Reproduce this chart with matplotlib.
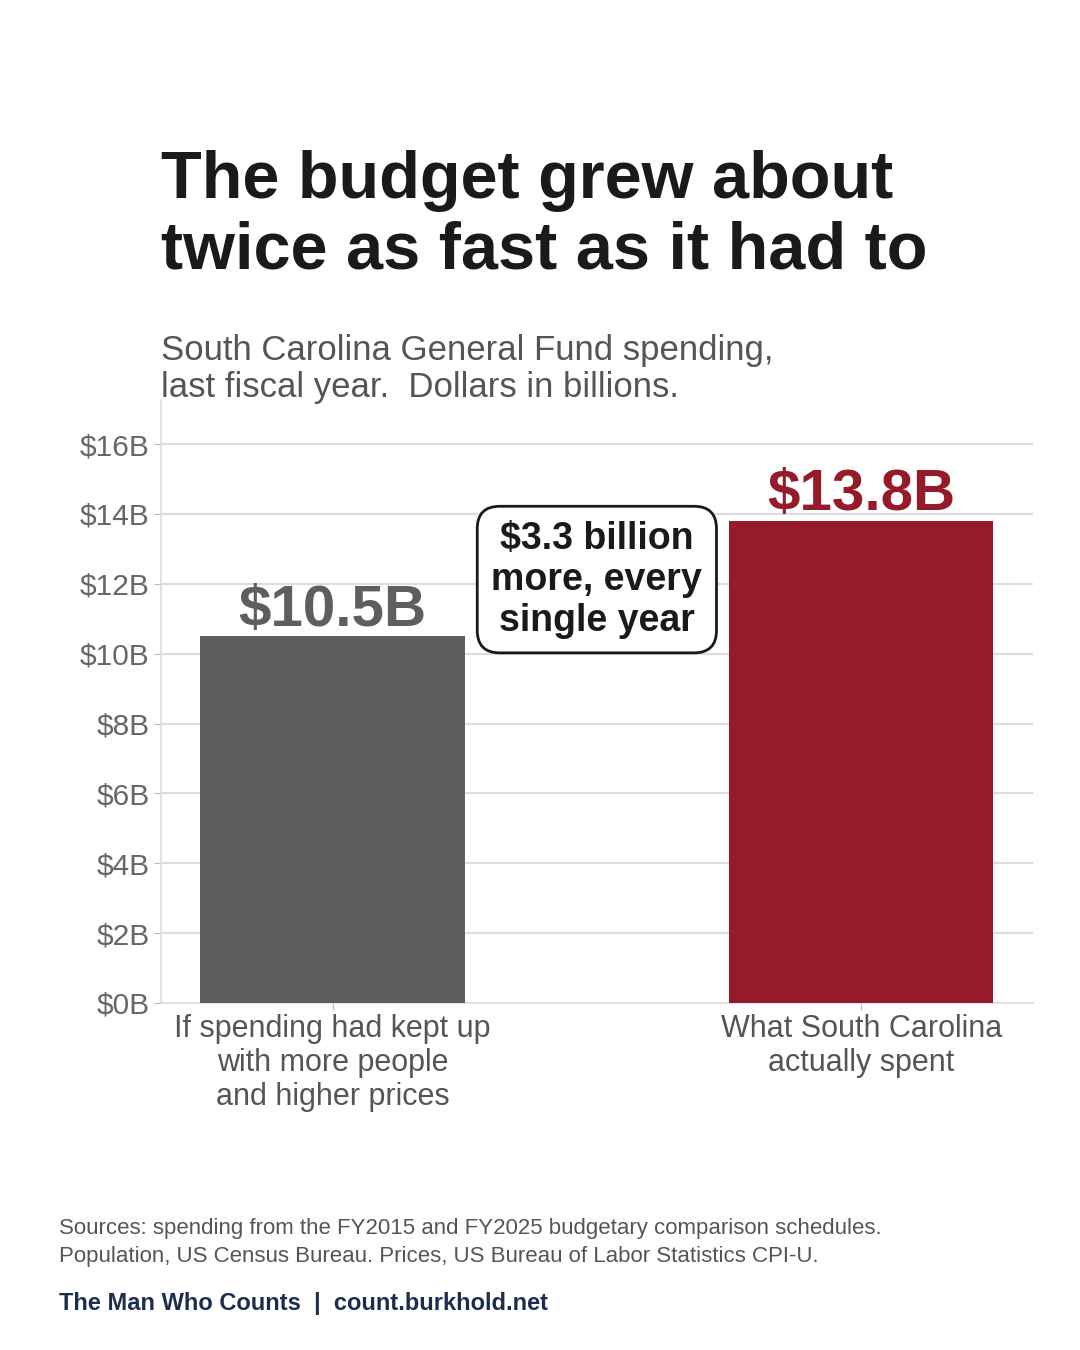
import matplotlib.pyplot as plt
from matplotlib.ticker import FuncFormatter

plt.rcParams['font.family'] = ['Liberation Sans', 'DejaVu Sans']

# Data
categories = ["If spending had kept up\nwith more people\nand higher prices",
              "What South Carolina\nactually spent"]
values = [10.5, 13.8]
value_labels = ["$10.5B", "$13.8B"]
bar_colors = ["#5e5e5e", "#951b2b"]
note_text = "$3.3 billion\nmore, every\nsingle year"

fig = plt.figure(figsize=(10.8, 13.5), dpi=100)
W, H = 1080, 1350
ax = fig.add_axes([161 / W, 1 - 1003 / H, (1033 - 161) / W, (1003 - 400) / H])

x = list(range(len(values)))
ax.bar(x, values, width=0.5, color=bar_colors, zorder=3)
ax.set_xlim(-0.3245, 1.325)
ax.set_ylim(0, 17.26)

ax.set_yticks(range(0, 17, 2))
ax.yaxis.set_major_formatter(FuncFormatter(lambda v, p: f"${int(v)}B"))
ax.grid(axis='y', color='#dddddd', linewidth=1.5, zorder=0)
ax.set_xticks(x)
ax.set_xticklabels(categories, fontsize=22, color='#555555', linespacing=1.17)
ax.tick_params(axis='y', labelsize=21.5, labelcolor='#666666', color='#bbbbbb', length=5, pad=3)
ax.tick_params(axis='x', color='#bbbbbb', length=5, pad=3)

for side in ['top', 'right']:
    ax.spines[side].set_visible(False)
for side in ['left', 'bottom']:
    ax.spines[side].set_color('#dddddd')
    ax.spines[side].set_linewidth(1.2)

# value labels above bars
for xi, v, lab, c in zip(x, values, value_labels, bar_colors):
    ax.text(xi, v + 0.3, lab, ha='center', va='baseline', fontsize=42,
            fontweight='bold', color=c, zorder=4)

# callout box
ax.text(0.5, 12.12, note_text, ha='center', va='center', fontsize=27,
        fontweight='bold', color='#1a1a1a', linespacing=1.18, zorder=5,
        bbox=dict(boxstyle='round,pad=0.38,rounding_size=0.6', facecolor='white',
                  edgecolor='#1a1a1a', linewidth=2))

# title and subtitle
fig.text(161 / W, 1 - 150 / H, "The budget grew about\ntwice as fast as it had to",
         ha='left', va='top', fontsize=48, fontweight='bold', color='#1a1a1a',
         linespacing=1.18)
fig.text(161 / W, 1 - 334 / H, "South Carolina General Fund spending,\nlast fiscal year.  Dollars in billions.",
         ha='left', va='top', fontsize=25, color='#555555', linespacing=1.17)

# footer
fig.text(59 / W, 1 - 1218 / H,
         "Sources: spending from the FY2015 and FY2025 budgetary comparison schedules.\n"
         "Population, US Census Bureau. Prices, US Bureau of Labor Statistics CPI-U.",
         ha='left', va='top', fontsize=16, color='#555555', linespacing=1.45)
fig.text(59 / W, 1 - 1292 / H, "The Man Who Counts  |  count.burkhold.net",
         ha='left', va='top', fontsize=17, fontweight='bold', color='#1c2e4f')

fig.savefig("out.png", dpi=100)
